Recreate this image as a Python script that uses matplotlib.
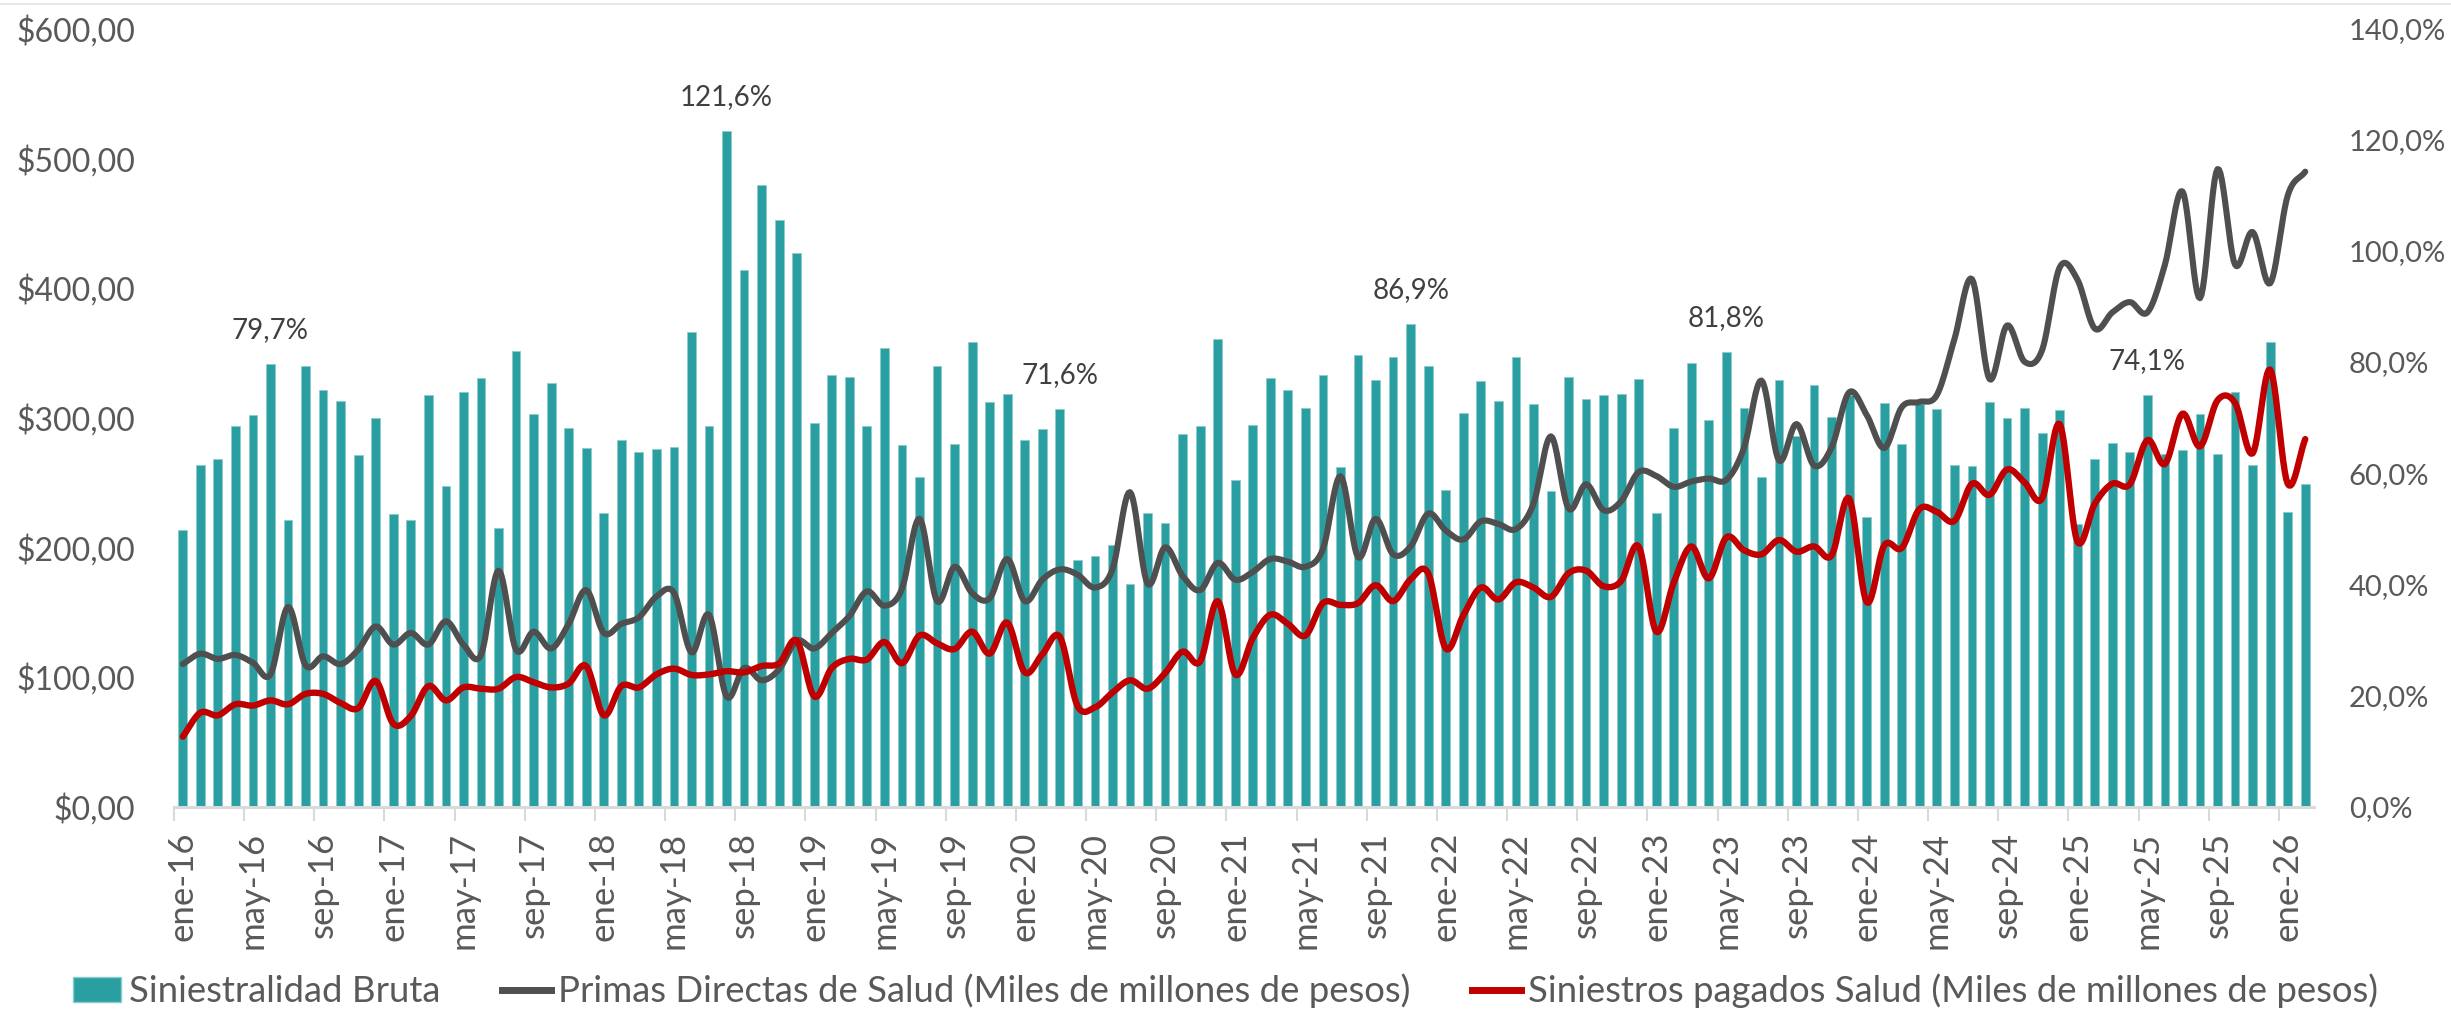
import numpy as np
import matplotlib
matplotlib.use("Agg")
import matplotlib.pyplot as plt
from matplotlib.lines import Line2D
from matplotlib.patches import Patch

plt.rcParams["font.family"] = ["Lato", "DejaVu Sans"]

# monthly, ene-16 .. feb-26
siniestralidad = [
    49.7, 61.5, 62.5, 68.4, 70.5, 79.7, 51.6, 79.2, 75.0, 72.9, 63.2, 70.0,
    52.6, 51.6, 74.1, 57.6, 74.6, 77.2, 50.2, 81.9, 70.7, 76.3, 68.1, 64.6,
    52.9, 65.9, 63.8, 64.3, 64.7, 85.3, 68.5, 121.6, 96.5, 111.8, 105.5, 99.6,
    69.1, 77.7, 77.3, 68.5, 82.5, 65.0, 59.3, 79.3, 65.2, 83.5, 72.8, 74.3,
    65.9, 68.0, 71.6, 44.3, 45.1, 47.0, 40.1, 52.8, 51.1, 67.0, 68.4, 84.1,
    58.7, 68.6, 77.2, 75.0, 71.7, 77.6, 61.1, 81.2, 76.7, 80.8, 86.9, 79.3,
    56.9, 70.9, 76.5, 72.9, 80.9, 72.4, 56.7, 77.3, 73.4, 74.1, 74.3, 77.0,
    52.9, 68.1, 79.8, 69.5, 81.8, 71.7, 59.3, 76.7, 66.7, 75.9, 70.1, 74.0,
    52.1, 72.6, 65.2, 72.5, 71.5, 61.4, 61.2, 72.8, 69.9, 71.7, 67.3, 71.3,
    50.9, 62.6, 65.5, 63.8, 74.1, 63.4, 64.1, 70.7, 63.4, 74.6, 61.4, 83.6,
    53.0, 58.0,
]
primas = [
    110, 118, 114, 117, 111, 102, 154, 109, 116, 110, 121, 139,
    125, 134, 125, 143, 125, 117, 182, 121, 135, 122, 141, 167,
    134, 141, 146, 162, 165, 119, 148, 85, 107, 97.5, 106, 128,
    122, 134, 147, 166, 155, 168, 222, 158.5, 185, 164.7, 160.6, 191,
    158.5, 175, 183, 179, 169, 183, 242.5, 172, 200, 178, 167, 188,
    175, 181, 191, 189, 185, 198.7, 254.8, 192.5, 222, 194.6, 200.7, 226,
    213, 206, 220, 218, 214, 233.5, 285.5, 230, 248.6, 228.6, 235.5, 258,
    255, 246.6, 250.7, 253, 252, 276.5, 328.5, 267, 295, 263, 277, 319.5,
    302, 276.5, 308, 312, 317.4, 360.4, 406.7, 329.7, 371, 343, 352, 415.7,
    406.7, 368.6, 381, 389, 381, 417.8, 474.3, 392, 491.5, 417.8, 443, 403.5,
    471, 489.5,
]
siniestros = [
    54, 72.5, 70.5, 79, 78, 82, 79, 87, 87, 80, 76, 97,
    64, 70, 93, 82, 92, 91, 91, 100, 96, 92, 95, 108.5,
    70.5, 93, 92, 102, 106.5, 101.6, 102, 104.5, 103.6, 108.5, 110.6, 128,
    85, 107, 114, 113.5, 127, 110.6, 132, 126, 121.6, 135, 118, 142,
    103.6, 117.5, 131, 78, 76.6, 88, 97.5, 91, 103, 119.6, 112, 158.5,
    102, 130, 148, 141, 132, 157, 155.6, 157, 170.8, 158.5, 175.3, 180,
    122, 147.5, 169, 159.7, 173, 169, 161.8, 180, 182, 170, 174, 200.7,
    135, 172.8, 200.7, 176, 207.7, 197.8, 194.6, 205.6, 196.6, 200.7, 193.7, 237.6,
    157.7, 201.5, 199.5, 229.4, 227.3, 220.4, 249, 240.4, 260, 250, 237.6, 295,
    204.8, 233.5, 249, 248.6, 282.6, 264.2, 303, 277.7, 313.3, 311.3, 272.4, 337,
    249, 283.4,
]
tick_labels = [
    "ene-16", "may-16", "sep-16", "ene-17", "may-17", "sep-17", "ene-18",
    "may-18", "sep-18", "ene-19", "may-19", "sep-19", "ene-20", "may-20",
    "sep-20", "ene-21", "may-21", "sep-21", "ene-22", "may-22", "sep-22",
    "ene-23", "may-23", "sep-23", "ene-24", "may-24", "sep-24", "ene-25",
    "may-25", "sep-25", "ene-26",
]
label_idx = [5, 31, 50, 70, 88, 112]

TEAL = "#2A9FA2"
GRAY = "#4F4F4F"
RED = "#C00000"
TXT = "#595959"
AXIS = "#D9D9D9"


def catmull_rom(x, y, steps=12):
    # smoothed line through the points, like Excel's "smoothed line"
    x = np.asarray(x, float)
    y = np.asarray(y, float)

    def curve(p):
        p = np.concatenate([[2 * p[0] - p[1]], p, [2 * p[-1] - p[-2]]])
        p0, p1, p2, p3 = p[:-3], p[1:-2], p[2:-1], p[3:]
        t = np.linspace(0, 1, steps, endpoint=False)[:, None]
        c = 0.5 * (2 * p1 + (-p0 + p2) * t + (2 * p0 - 5 * p1 + 4 * p2 - p3) * t ** 2
                   + (-p0 + 3 * p1 - 3 * p2 + p3) * t ** 3)
        return np.append(c.T.ravel(), p[-2])

    return curve(x), curve(y)


n = len(siniestralidad)
x = np.arange(n)

fig = plt.figure(figsize=(24.51, 10.11), dpi=100)
ax = fig.add_axes([174 / 2451, 0.202, (2314 - 174) / 2451, 0.770])
ax2 = ax.twinx()

ax2.bar(x, siniestralidad, width=0.5, color=TEAL, edgecolor="#8CCBCD", linewidth=0.6)
for i in label_idx:
    v = siniestralidad[i]
    ax2.annotate(f"{v:.1f}%".replace(".", ","), (i, v), xytext=(0, 15),
                 textcoords="offset points", ha="center", va="bottom",
                 fontsize=20, color="#404040")

sx, sy = catmull_rom(x, primas)
ax.plot(sx, sy, color=GRAY, lw=4.4, solid_capstyle="round")
sx, sy = catmull_rom(x, siniestros)
ax.plot(sx, sy, color=RED, lw=4.6, solid_capstyle="round")

ax.set_zorder(ax2.get_zorder() + 1)
ax.patch.set_visible(False)

ax.set_xlim(-0.5, n - 0.5)
ax.set_ylim(0, 600)
ax2.set_ylim(0, 140)

for a in (ax, ax2):
    for s in a.spines.values():
        s.set_visible(False)
ax.spines["bottom"].set_visible(True)
ax.spines["bottom"].set_color(AXIS)
ax.spines["bottom"].set_linewidth(2.2)

ax.set_xticks(np.arange(0, n, 4) - 0.5)
ax.set_xticklabels([])
ax.set_xticks(np.arange(0, 121, 4), tick_labels, minor=True)
ax.tick_params(axis="x", which="major", length=10, width=1.5, color=AXIS)
ax.tick_params(axis="x", which="minor", length=0, pad=18, labelsize=25,
               labelcolor=TXT, labelrotation=90)

yl = np.arange(0, 601, 100)
ax.set_yticks(yl, [f"${v},00" for v in yl])
ax.tick_params(axis="y", length=0, pad=28, labelsize=23, labelcolor=TXT)
yr = np.arange(0, 141, 20)
ax2.set_yticks(yr, [f"{v},0%" for v in yr])
ax2.tick_params(axis="y", length=0, pad=25, labelsize=21, labelcolor=TXT)

handles = [
    Patch(facecolor=TEAL, edgecolor="#8CCBCD"),
    Line2D([], [], color=GRAY, lw=5),
    Line2D([], [], color=RED, lw=5),
]
names = [
    "Siniestralidad Bruta",
    "Primas Directas de Salud (Miles de millones de pesos)",
    "Siniestros pagados Salud (Miles de millones de pesos)",
]
leg = fig.legend(handles, names, loc="lower center", bbox_to_anchor=(0.5, -0.03),
                 ncol=3, frameon=False, fontsize=26.3, handlelength=1.33,
                 handletextpad=0.2, columnspacing=1.7)
for t in leg.get_texts():
    t.set_color(TXT)

fig.add_artist(Line2D([0, 1], [0.996, 0.996], transform=fig.transFigure,
                      color="#E8E8E8", lw=1.5))

fig.savefig("out.png", dpi=100)
